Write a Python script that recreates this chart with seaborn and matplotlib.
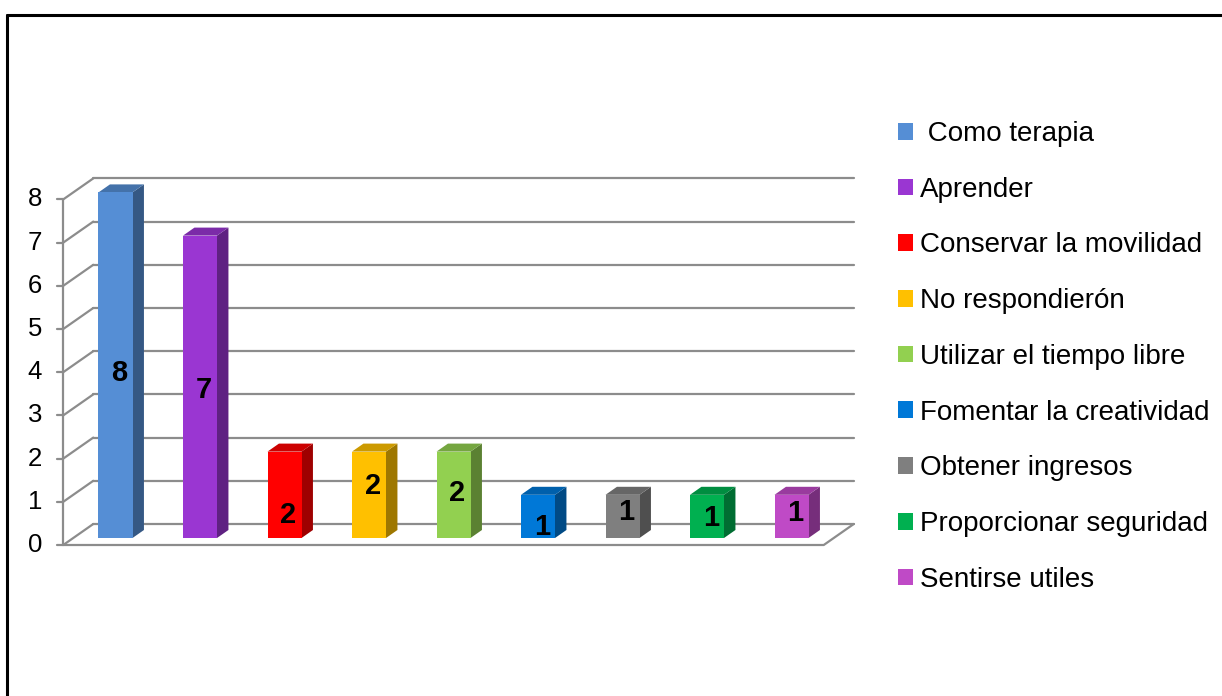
import matplotlib
matplotlib.use("Agg")
import matplotlib.pyplot as plt
from matplotlib.patches import Patch, Polygon
from matplotlib.lines import Line2D
import seaborn as sns

# Datos del grafico
categorias = [" Como terapia", "Aprender", "Conservar la movilidad", "No respondierón",
              "Utilizar el tiempo libre", "Fomentar la creatividad", "Obtener ingresos",
              "Proporcionar seguridad", "Sentirse utiles"]
valores = [8, 7, 2, 2, 2, 1, 1, 1, 1]
colores = ["#558ED5", "#9A36D2", "#FF0000", "#FFC000", "#92D050",
           "#0078D7", "#7F7F7F", "#00B050", "#BF4AC6"]
ticks_y = [0, 1, 2, 3, 4, 5, 6, 7, 8]

# ajuste vertical de las etiquetas (px, estilo)
nudge_etiquetas = [8, 3, 20, -9, -2, 11, -4, 2, -3]

sns.set_style("white")
plt.rcParams["font.family"] = ["Liberation Sans", "DejaVu Sans"]

W, H = 1222, 696
fig = plt.figure(figsize=(W / 100, H / 100), dpi=100)

# escala en pixeles
px_x = 84.5   # px por categoria
px_y = 43.2   # px por unidad
x0_px, y0_px = 115.5, 538  # centro barra 1, base de barra
left_px, right_px, top_px, bot_px = 40, 870, 150, 560
ax = fig.add_axes([left_px / W, (H - bot_px) / H, (right_px - left_px) / W, (bot_px - top_px) / H])

sns.barplot(x=categorias, y=valores, hue=categorias, palette=colores, width=34 / px_x,
            saturation=1, legend=False, ax=ax, zorder=3, edgecolor="none", linewidth=0)
ax.set_xlim((left_px - x0_px) / px_x, (right_px - x0_px) / px_x)
ax.set_ylim((y0_px - bot_px) / px_y, (y0_px - top_px) / px_y)
ax.axis("off")


def pt(x, v, d):
    # profundidad d en px (pendiente 1.43 : 1), hacia arriba y a la derecha
    return (x + d * 1.43 / px_x, v + d / px_y)


gris = "#8C8C8C"
xl, xr = -0.5, len(categorias) - 0.5
d_front, d_back, d_bar = -7, 14, 8

# paredes y lineas de division
for k in ticks_y:
    a, b = pt(xl, k, d_back), pt(xr, k, d_back)
    ax.plot([a[0], b[0]], [a[1], b[1]], color=gris, lw=1.6, zorder=1)
    a, b = pt(xl, k, d_front), pt(xl, k, d_back)
    ax.plot([a[0], b[0]], [a[1], b[1]], color=gris, lw=1.6, zorder=1)
    t0 = pt(xl, k, d_front)
    ax.plot([t0[0] - 6 / px_x, t0[0]], [t0[1], t0[1]], color=gris, lw=1.6, zorder=1)
    ax.text(t0[0] - 21 / px_x, t0[1], str(k), ha="right", va="center", fontsize=18.5, color="black")

a, b = pt(xl, 0, d_front), pt(xl, max(ticks_y), d_front)
ax.plot([a[0], b[0]], [a[1], b[1]], color=gris, lw=1.6, zorder=1)
a, b, c = pt(xl, 0, d_front), pt(xr, 0, d_front), pt(xr, 0, d_back)
ax.plot([a[0], b[0], c[0]], [a[1], b[1], c[1]], color=gris, lw=1.6, zorder=1)

# caras laterales y superiores
for i, p in enumerate(ax.patches):
    x1, w, h = p.get_x(), p.get_width(), p.get_height()
    x2 = x1 + w
    r, g, bl, _ = p.get_facecolor()
    lado = (r * 0.62, g * 0.62, bl * 0.62)
    arriba = (r * 0.8, g * 0.8, bl * 0.8)
    ax.add_patch(Polygon([(x2, 0), (x2, h), pt(x2, h, d_bar), pt(x2, 0, d_bar)],
                         closed=True, facecolor=lado, edgecolor="none", zorder=2.9))
    ax.add_patch(Polygon([(x1, h), (x2, h), pt(x2, h, d_bar), pt(x1, h, d_bar)],
                         closed=True, facecolor=arriba, edgecolor="none", zorder=2.9))
    xc = x1 + w / 2 + 4 / px_x
    ax.text(xc, h / 2 - nudge_etiquetas[i] / px_y, str(valores[i]), ha="center", va="center",
            fontsize=21, fontweight="bold", color="black", zorder=5)

# leyenda
handles = [Patch(facecolor=c, edgecolor="none") for c in colores]
fig.legend(handles, categorias, loc="upper left", bbox_to_anchor=(898 / W, 1 - 121 / H),
           frameon=False, fontsize=20, labelcolor="black", handlelength=0.55, handleheight=0.55,
           handletextpad=0.25, labelspacing=1.07, borderpad=0, borderaxespad=0)

# marco
fig.add_artist(Line2D([7 / W, 7 / W], [0, 1 - 15 / H], color="black", lw=2.2))
fig.add_artist(Line2D([7 / W, 1], [1 - 15 / H, 1 - 15 / H], color="black", lw=2.2))

fig.savefig("out.png", dpi=100)
